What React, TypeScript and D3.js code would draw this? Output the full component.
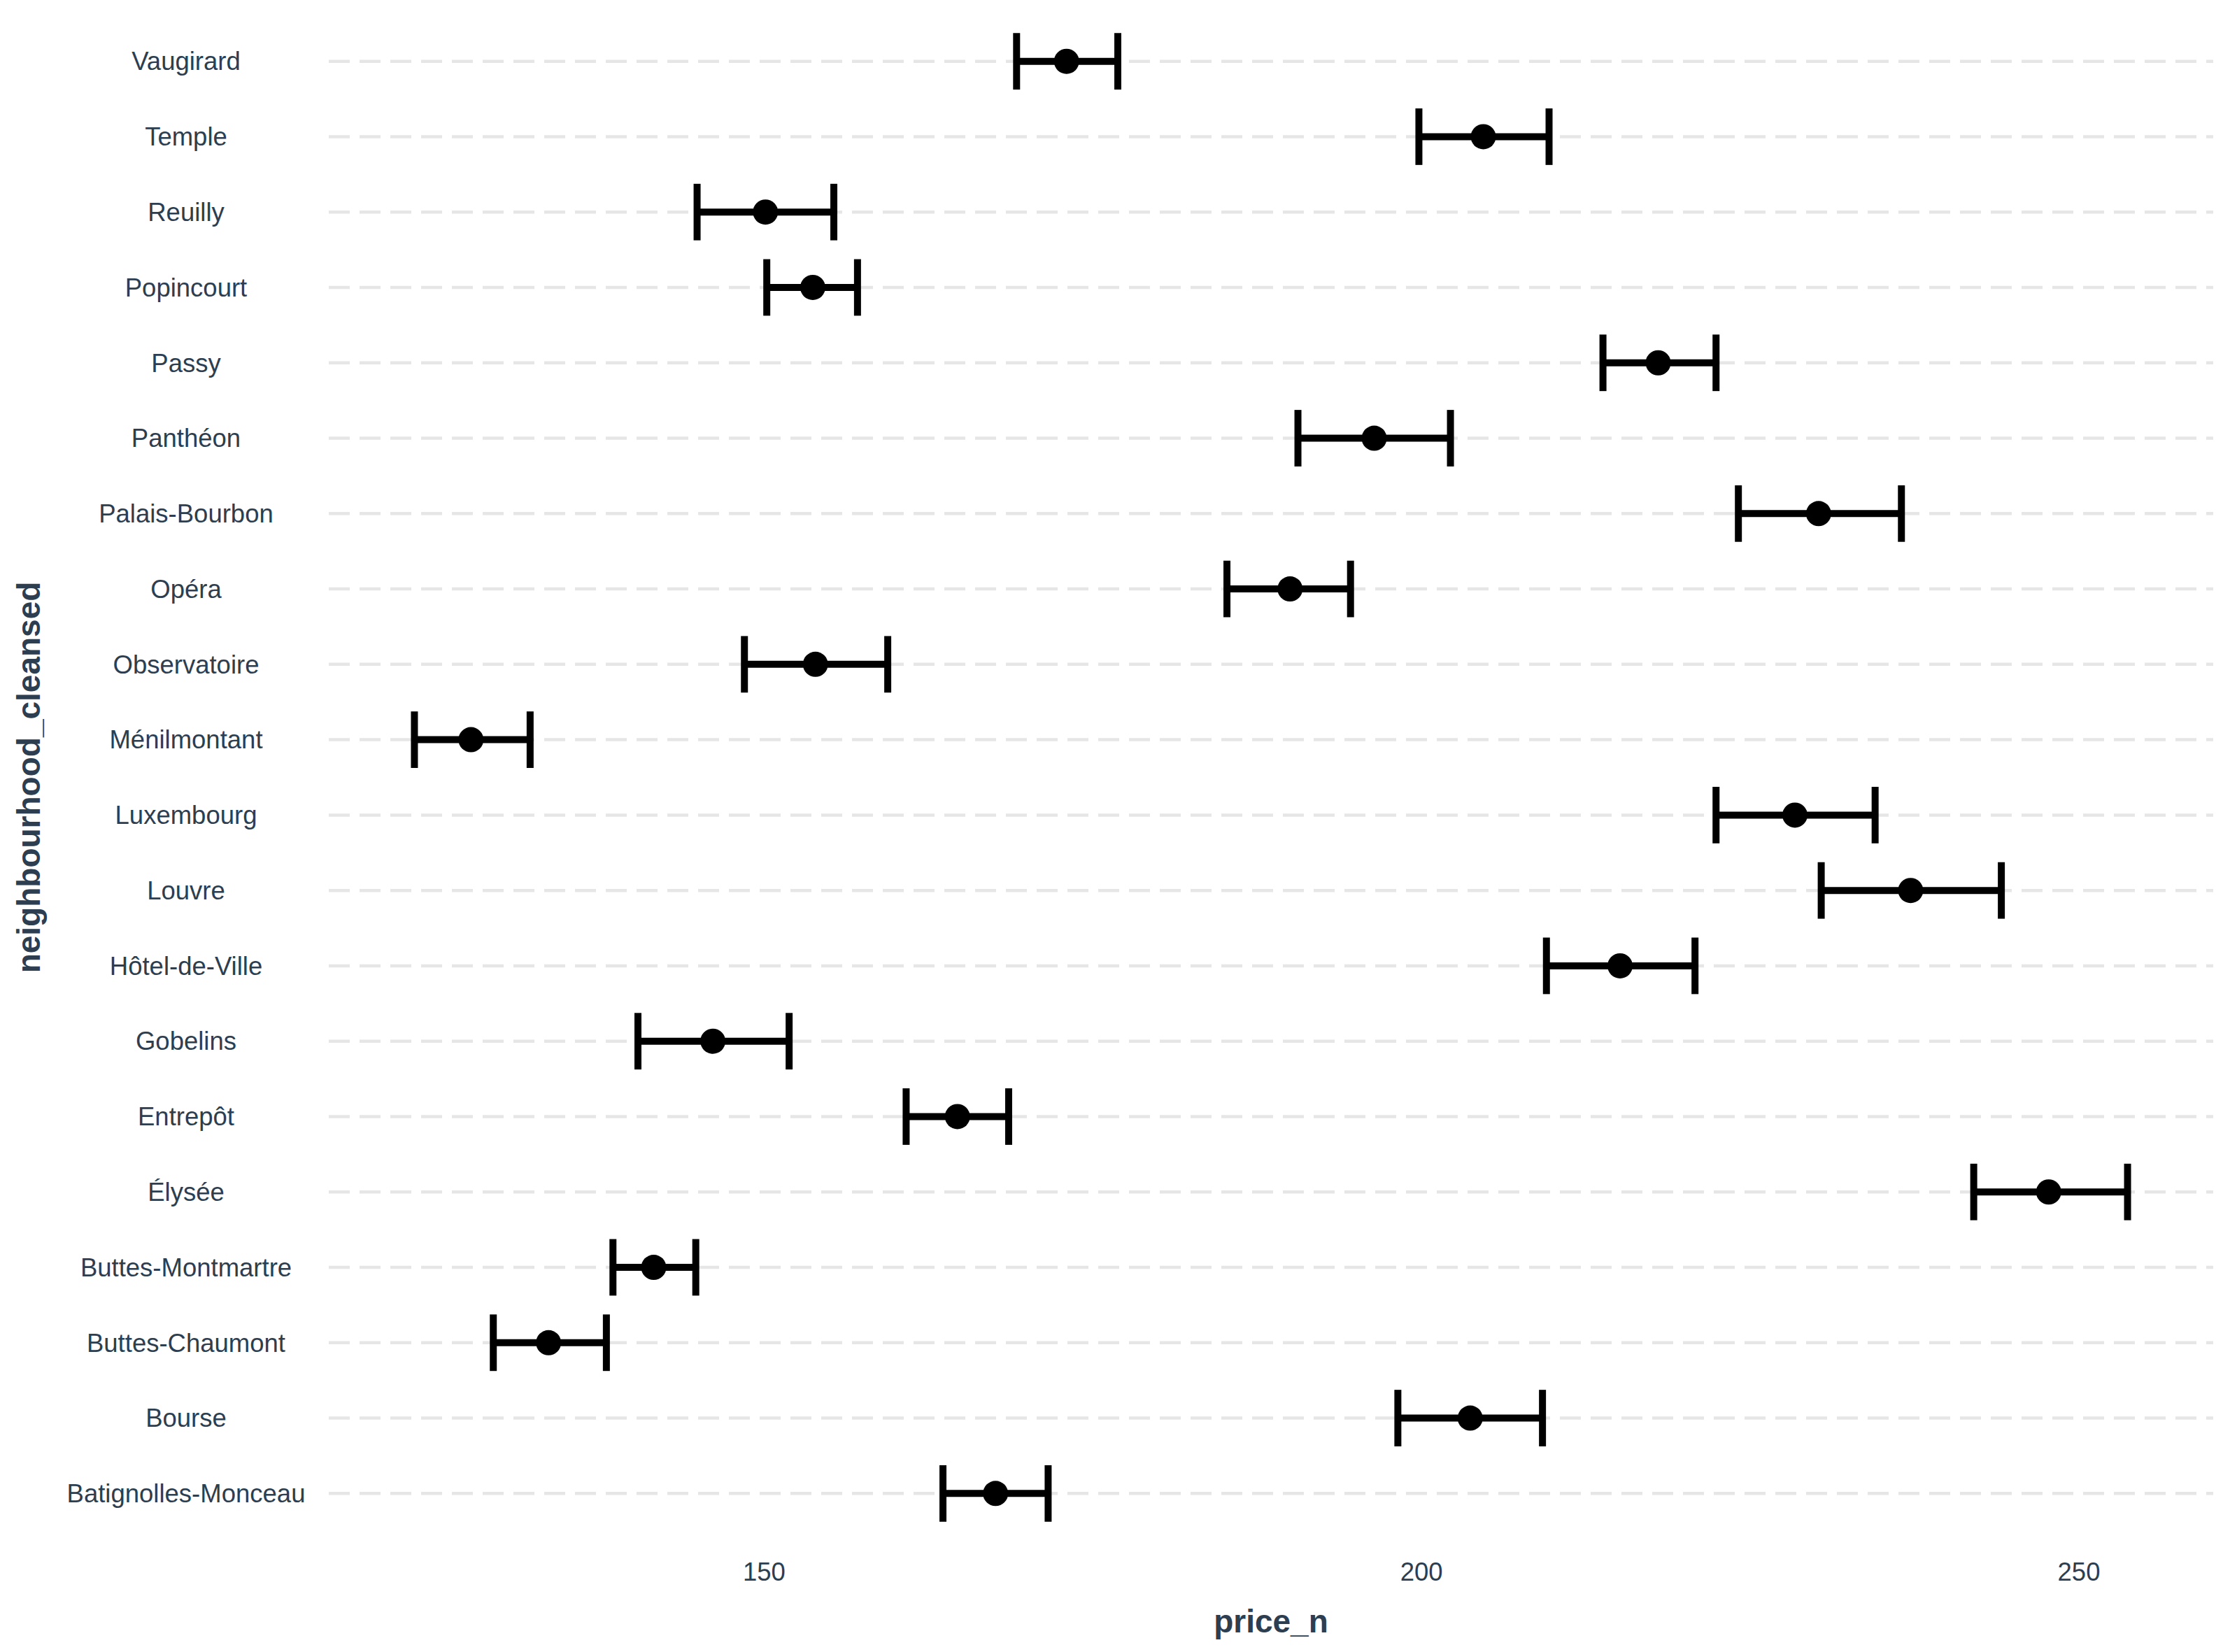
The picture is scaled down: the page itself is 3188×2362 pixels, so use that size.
import React from "react";
import * as d3 from "d3";

// neighbourhoods, bottom to top as in the chart
const neighbourhoods = [
  "Batignolles-Monceau",
  "Bourse",
  "Buttes-Chaumont",
  "Buttes-Montmartre",
  "Élysée",
  "Entrepôt",
  "Gobelins",
  "Hôtel-de-Ville",
  "Louvre",
  "Luxembourg",
  "Ménilmontant",
  "Observatoire",
  "Opéra",
  "Palais-Bourbon",
  "Panthéon",
  "Passy",
  "Popincourt",
  "Reuilly",
  "Temple",
  "Vaugirard",
];
const priceMean = [167.6, 203.7, 133.6, 141.6, 247.7, 164.7, 146.1, 215.1, 237.2, 228.4, 127.7, 153.9, 190.0, 230.2, 196.4, 218.0, 153.7, 150.1, 204.7, 173.0];
const priceLow = [163.6, 198.2, 129.4, 138.5, 242.0, 160.8, 140.4, 209.5, 230.4, 222.4, 123.4, 148.5, 185.2, 224.1, 190.6, 213.8, 150.2, 144.9, 199.8, 169.2];
const priceHigh = [171.6, 209.2, 138.0, 144.8, 253.7, 168.6, 151.9, 220.8, 244.1, 234.5, 132.2, 159.4, 194.6, 236.5, 202.2, 222.4, 157.1, 155.3, 209.7, 176.9];
const xTicks = [150, 200, 250];

const W = 3188;
const H = 2362;
const panel = { left: 470, right: 3164, top: 23, bottom: 2200 };
const textColor = "#2c3e50";
const font = "'Liberation Sans', Arial, sans-serif";

export default function App() {
  const lo = d3.min(priceLow) as number;
  const hi = d3.max(priceHigh) as number;
  const pad = (hi - lo) * 0.05;
  const x = d3.scaleLinear().domain([lo - pad, hi + pad]).range([panel.left, panel.right]);
  const y = d3
    .scalePoint<string>()
    .domain(neighbourhoods)
    .range([panel.bottom, panel.top])
    .padding(0.6);
  const capH = y.step() * 0.75;

  return (
    <svg
      width={W}
      height={H}
      style={{ position: "absolute", left: 0, top: 0, background: "#fff" }}
      fontFamily={font}
    >
      {/* dashed horizontal grid */}
      {neighbourhoods.map((n) => (
        <line
          key={"g" + n}
          x1={panel.left}
          x2={panel.right}
          y1={y(n)}
          y2={y(n)}
          stroke="#e6e6e6"
          strokeWidth={4.5}
          strokeDasharray="30 14"
        />
      ))}

      {/* error bars and points */}
      {neighbourhoods.map((n, i) => {
        const cy = y(n) as number;
        return (
          <g key={"e" + n}>
            <line x1={x(priceLow[i])} x2={x(priceHigh[i])} y1={cy} y2={cy} stroke="#000" strokeWidth={10} />
            <line x1={x(priceLow[i])} x2={x(priceLow[i])} y1={cy - capH / 2} y2={cy + capH / 2} stroke="#000" strokeWidth={10} />
            <line x1={x(priceHigh[i])} x2={x(priceHigh[i])} y1={cy - capH / 2} y2={cy + capH / 2} stroke="#000" strokeWidth={10} />
            <circle cx={x(priceMean[i])} cy={cy} r={18} fill="#000" />
          </g>
        );
      })}

      {/* y tick labels */}
      {neighbourhoods.map((n) => (
        <text
          key={"t" + n}
          x={266}
          y={y(n)}
          dy="0.35em"
          textAnchor="middle"
          fontSize={36.5}
          fill={textColor}
        >
          {n}
        </text>
      ))}

      {/* x tick labels */}
      {xTicks.map((t) => (
        <text key={"x" + t} x={x(t)} y={2247} dy="0.35em" textAnchor="middle" fontSize={36.5} fill={textColor}>
          {t}
        </text>
      ))}

      {/* axis titles */}
      <text
        x={(panel.left + panel.right) / 2}
        y={2318}
        dy="0.35em"
        textAnchor="middle"
        fontSize={46}
        fontWeight="bold"
        fill={textColor}
      >
        price_n
      </text>
      <text
        transform={`translate(41,${(panel.top + panel.bottom) / 2}) rotate(-90)`}
        dy="0.35em"
        textAnchor="middle"
        fontSize={46}
        fontWeight="bold"
        fill={textColor}
      >
        neighbourhood_cleansed
      </text>
    </svg>
  );
}
